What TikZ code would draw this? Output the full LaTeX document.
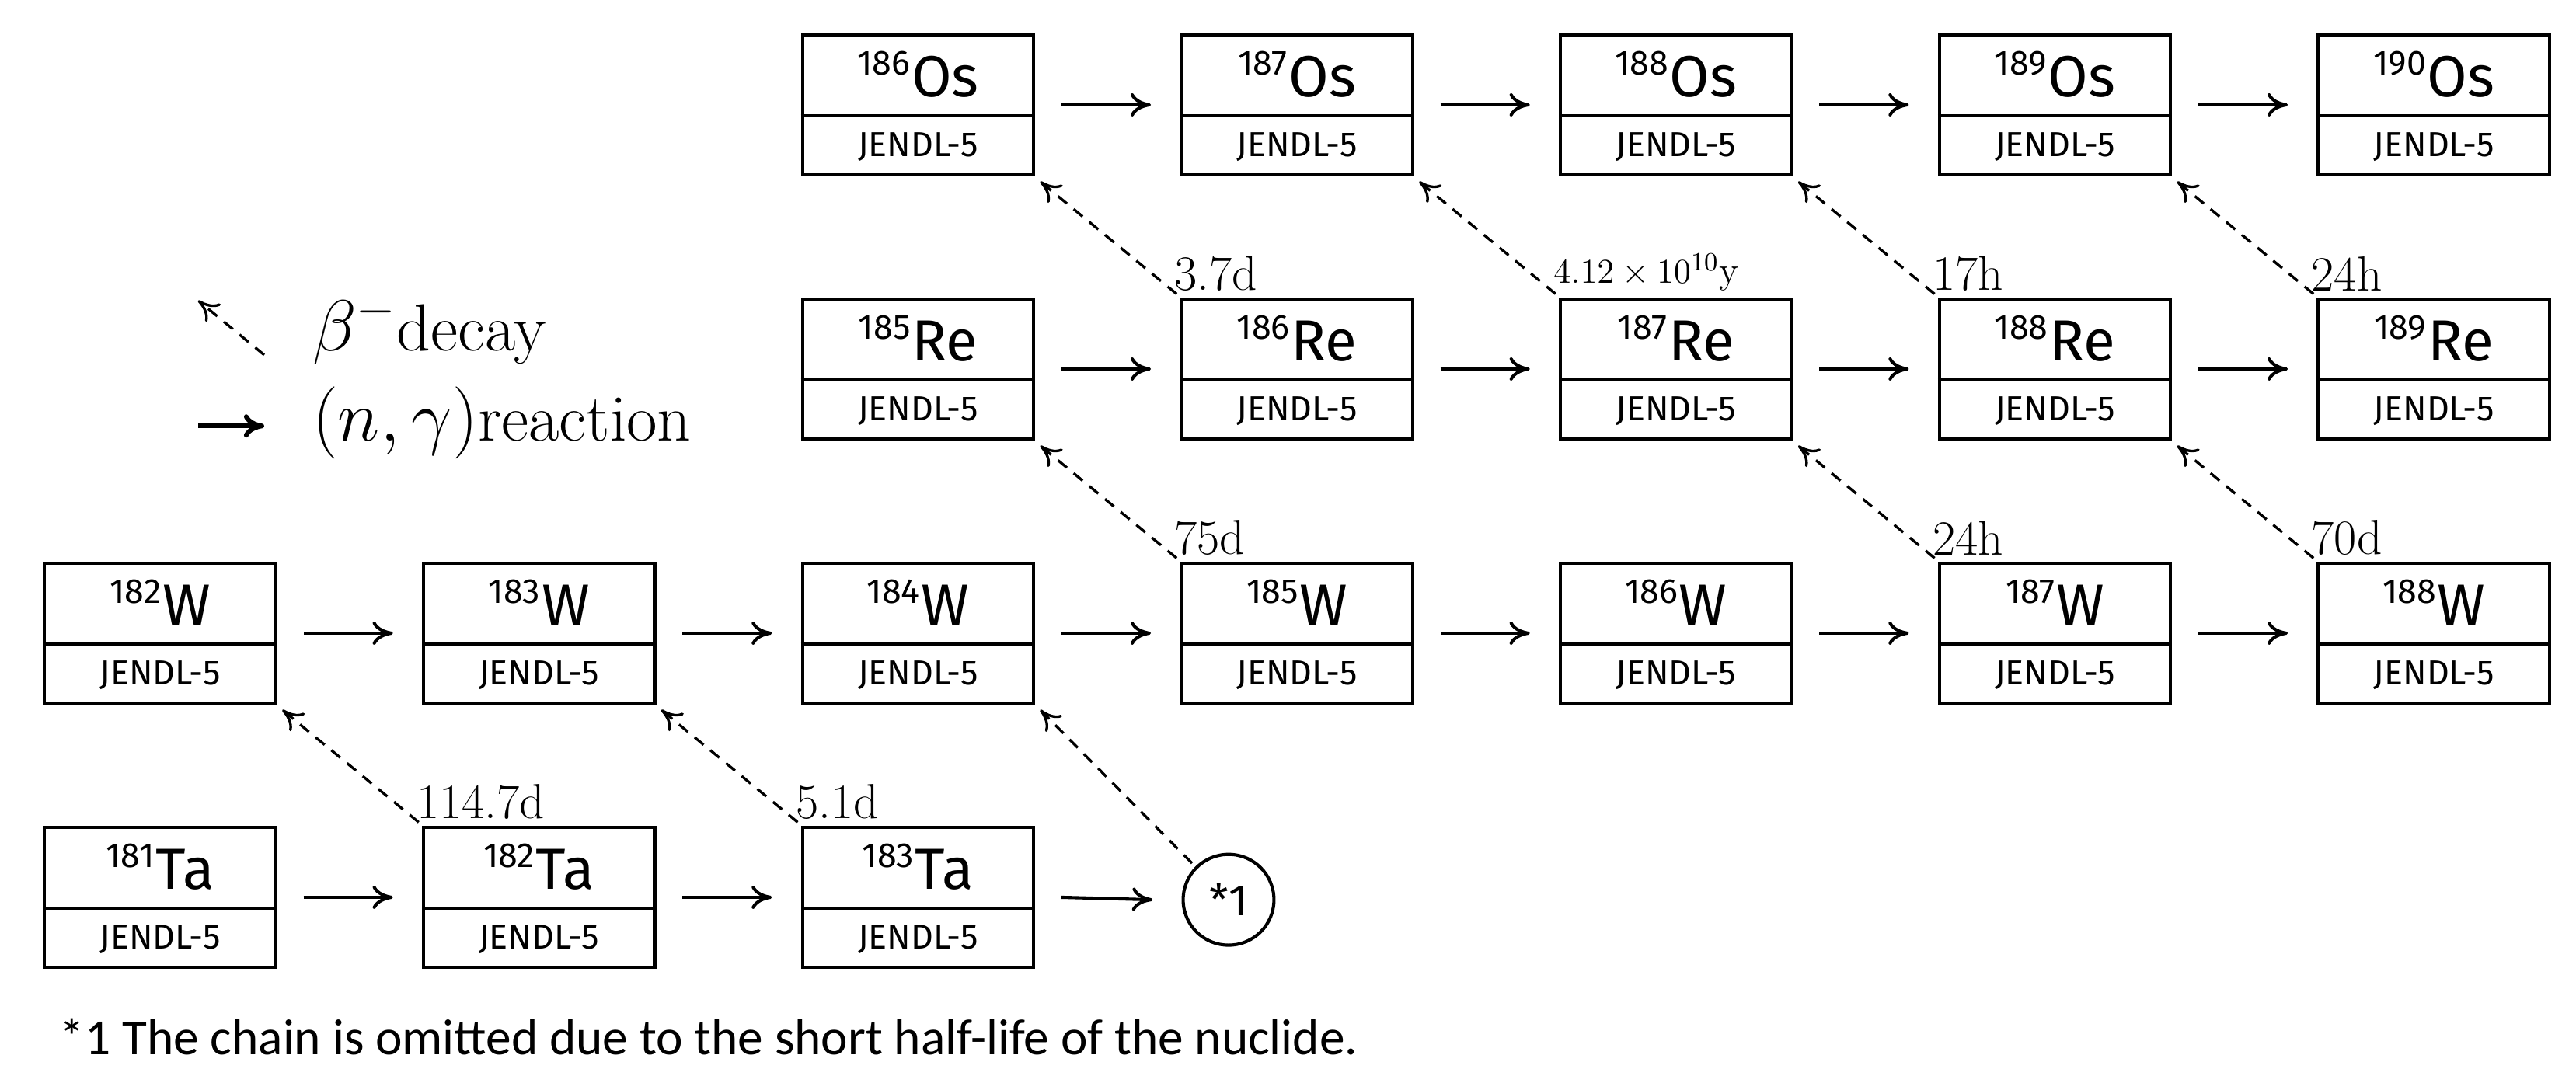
\documentclass[tikz,border=0pt]{standalone}
\usepackage{fontspec}
\setmainfont{Latin Modern Roman}
\newfontfamily\boxfont{Fira Sans}
\newfontfamily\notefont{Carlito}
\usetikzlibrary{arrows.meta}
\begin{document}
\begin{tikzpicture}[x=0.02cm,y=-0.02cm,
  nuc/.style={draw,line width=1.1pt,minimum width=2.8cm,minimum height=1.7cm,inner sep=0},
  ar/.style={-{To[length=7pt,width=8pt]},line width=1.1pt},
  dar/.style={-{To[length=7pt,width=8pt]},line width=0.9pt,dash pattern=on 4pt off 3pt},
  hl/.style={anchor=south west,inner sep=2pt,font=\fontsize{17}{17}\selectfont}]
\useasboundingbox (0,0) rectangle (1560,656);
\newcommand{\nucl}[5]{%
  \node[nuc] (#1) at (#2,#3) {};
  \draw[line width=1.1pt] ([yshift=-1.0cm]#1.north west) -- ([yshift=-1.0cm]#1.north east);
  \node[font=\boxfont\fontsize{20}{20}\selectfont,inner sep=0] at ([yshift=-0.5cm]#1.north) {\textsuperscript{\fontsize{12}{12}\selectfont #4}#5};
  \node[font=\boxfont\fontsize{12}{12}\selectfont,inner sep=0] at ([yshift=0.36cm]#1.south) {JENDL-5};}
% Os row
\nucl{os186}{556}{63.5}{186}{Os}
\nucl{os187}{785.5}{63.5}{187}{Os}
\nucl{os188}{1015}{63.5}{188}{Os}
\nucl{os189}{1244.5}{63.5}{189}{Os}
\nucl{os190}{1474}{63.5}{190}{Os}
% Re row
\nucl{re185}{556}{223.5}{185}{Re}
\nucl{re186}{785.5}{223.5}{186}{Re}
\nucl{re187}{1015}{223.5}{187}{Re}
\nucl{re188}{1244.5}{223.5}{188}{Re}
\nucl{re189}{1474}{223.5}{189}{Re}
% W row
\nucl{w182}{97}{383.5}{182}{W}
\nucl{w183}{326.5}{383.5}{183}{W}
\nucl{w184}{556}{383.5}{184}{W}
\nucl{w185}{785.5}{383.5}{185}{W}
\nucl{w186}{1015}{383.5}{186}{W}
\nucl{w187}{1244.5}{383.5}{187}{W}
\nucl{w188}{1474}{383.5}{188}{W}
% Ta row
\nucl{ta181}{97}{543.5}{181}{Ta}
\nucl{ta182}{326.5}{543.5}{182}{Ta}
\nucl{ta183}{556}{543.5}{183}{Ta}
\node[draw,circle,line width=1.1pt,minimum size=1.1cm,inner sep=0,font=\boxfont\fontsize{15}{15}\selectfont] (c1) at (744,545) {*1};
% horizontal arrows
\foreach \a/\b in {os186/os187,os187/os188,os188/os189,os189/os190,
  re185/re186,re186/re187,re187/re188,re188/re189,
  w182/w183,w183/w184,w184/w185,w185/w186,w186/w187,w187/w188,
  ta181/ta182,ta182/ta183,ta183/c1}
  \draw[ar] ([xshift=9]\a.east) -- ([xshift=-10]\b.west);
% beta decays
\foreach \a/\b/\t in {re186/os186/3.7d,re187/os187/{\fontsize{13}{13}\selectfont$4.12\times10^{10}$y},re188/os188/17h,re189/os189/24h,
  w185/re185/75d,w187/re187/24h,w188/re188/70d,ta182/w182/114.7d,ta183/w183/5.1d}{
  \draw[dar] ([shift={(-2,-2)}]\a.north west) -- ([shift={(3,3)}]\b.south east);
  \node[hl] at ([xshift=-4]\a.north west) {\t};}
\draw[dar] ([shift={(-2,-2)}]c1.north west) -- ([shift={(3,3)}]w184.south east);
% legend
\coordinate (l1a) at (160,215); \coordinate (l1b) at (120,182);
\draw[dar] (l1a) -- (l1b);
\node[anchor=west,font=\fontsize{23}{23}\selectfont] (lt1) at (183,200) {$\beta^{-}$decay};
\coordinate (l2a) at (120,258); \coordinate (l2b) at (160,258);
\draw[ar,line width=1.6pt] (l2a) -- (l2b);
\node[anchor=west,font=\fontsize{23}{23}\selectfont] (lt2) at (183,256) {$(n,\gamma)$reaction};
\node[anchor=west,font=\notefont\fontsize{17.5}{17.5}\selectfont] (fn) at (30,628) {*1 The chain is omitted due to the short half-life of the nuclide.};
\end{tikzpicture}
\end{document}
